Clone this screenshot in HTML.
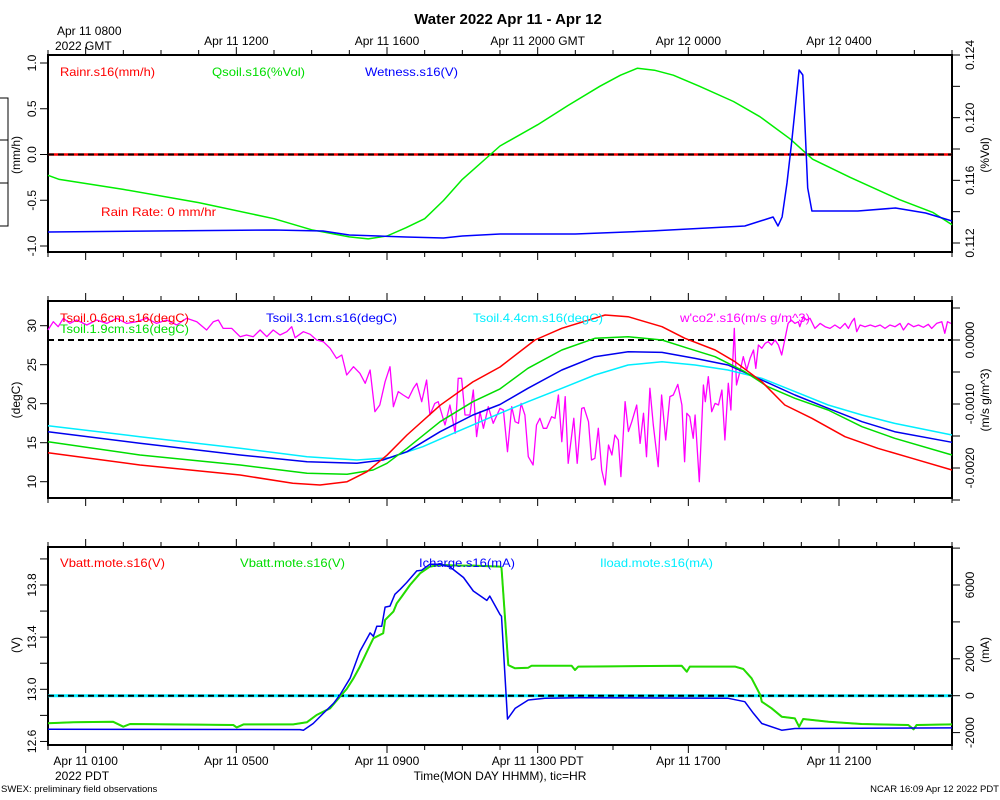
<!DOCTYPE html>
<html><head><meta charset="utf-8"><title>Water 2022 Apr 11 - Apr 12</title>
<style>
html,body{margin:0;padding:0;background:#fff;}
svg{display:block;font-family:"Liberation Sans",Arial,sans-serif;}
</style></head>
<body>
<svg id="chart" width="1000" height="800" viewBox="0 0 1000 800" xmlns="http://www.w3.org/2000/svg">
<text x="508" y="24" text-anchor="middle" font-size="15" font-weight="bold">Water 2022 Apr 11 - Apr 12</text>
<text x="57" y="35" font-size="12">Apr 11 0800</text>
<text x="55" y="50" font-size="12">2022 GMT</text>
<text x="55" y="780" font-size="12">2022 PDT</text>
<text x="500" y="780" text-anchor="middle" font-size="12">Time(MON DAY HHMM), tic=HR</text>
<text x="1" y="792" font-size="9.5">SWEX: preliminary field observations</text>
<text x="999" y="792" text-anchor="end" font-size="9.5">NCAR 16:09 Apr 12 2022 PDT</text>
<path d="M0 98H8V226H0M0 140H8M0 183H8" fill="none" stroke="#000" stroke-width="1"/>
<g id="layer"></g>
</svg>
<script>
// ---------- Panel 1 data ----------
const qsoilHours = [0,0.3,2,4,6,7,8,8.5,9,9.5,10,10.5,11,12,13,13.8,14.65,15.2,15.65,16.1,16.6,17.3,18.2,18.9,19.7,20.3,21.3,22.6,23.5,24];
const qsoilValues = [0.11632,0.11606,0.11542,0.11458,0.11355,0.11284,0.11239,0.11226,0.11245,0.11297,0.11355,0.11471,0.11606,0.11819,0.11955,0.12077,0.12200,0.12271,0.12316,0.12303,0.12271,0.12200,0.12103,0.12006,0.11865,0.11735,0.11619,0.11477,0.11394,0.11316];
const wetHours = [0,6,7.3,8,9.5,10.5,11,12,14,16,17,18.5,19.25,19.38,19.49,19.62,19.75,19.94,20.04,20.17,20.28,21.5,22.5,23.3,24];
const wetValues = [-0.847,-0.825,-0.836,-0.880,-0.902,-0.913,-0.891,-0.869,-0.869,-0.836,-0.814,-0.781,-0.683,-0.781,-0.683,-0.311,0.159,0.923,0.869,-0.366,-0.617,-0.617,-0.585,-0.639,-0.727];
const rainHours = [0,24];
const rainValues = [0,0];
const p1LeftTicks = [1.0,0.5,0.0,-0.5,-1.0];
const p1RightTicks = [0.124,0.122,0.120,0.118,0.116,0.114,0.112];
const p1RightLabels = [0.124,0.120,0.116,0.112];

// ---------- Panel 2 data ----------
const t06Hours = [0,2.44,5.10,6.50,7.22,7.94,8.47,9.00,9.53,10.41,11.28,12.0,12.93,13.64,14.79,15.40,16.30,16.91,17.71,18.24,18.95,19.56,20.28,21.16,22.03,22.94,24];
const t06Values = [13.72,12.14,10.86,9.8,9.58,10.0,11.28,13.4,15.99,19.8,22.8,24.7,28.17,29.67,31.37,31.15,29.87,28.38,26.88,25.38,22.82,19.83,18.13,15.77,14.28,13.0,11.5];
const t19Hours = [0,2.44,5.10,6.88,7.94,8.63,9.00,9.53,10.41,11.28,12.0,12.74,13.64,14.52,15.40,16.30,16.99,17.71,18.50,19.11,19.83,20.71,21.61,22.48,24];
const t19Values = [15.13,13.42,12.14,11.08,10.95,11.5,12.36,14.28,17.69,20.26,21.9,24.54,26.88,28.38,28.59,28.17,27.1,26.03,24.1,22.18,20.69,19.19,17.05,15.56,13.42];
const t31Hours = [0,2.44,5.10,6.88,8.20,8.89,9.53,10.41,11.28,12.0,12.74,13.64,14.52,15.40,16.30,17.18,18.05,18.95,19.83,20.71,21.61,22.48,24];
const t31Values = [16.41,14.92,13.42,12.56,12.36,12.78,13.85,16.41,18.55,19.9,21.97,24.32,26.03,26.67,26.58,25.81,24.96,23.04,21.12,19.41,17.69,16.41,15.05];
const t44Hours = [0,2.44,5.10,6.88,8.20,9.08,9.95,10.86,12.0,12.74,13.64,14.52,15.40,16.30,17.18,18.05,18.95,19.83,20.71,21.61,22.48,24];
const t44Values = [17.18,15.77,14.28,13.21,12.78,13.08,14.49,16.41,18.77,20.26,21.97,23.68,24.96,25.38,24.96,24.32,23.26,21.55,19.83,18.55,17.48,15.99];
const co2Hours = [0,0.14,0.27,0.41,0.58,0.76,1.03,1.29,1.56,1.82,2.09,2.35,2.62,2.88,3.15,3.42,3.68,3.95,4.21,4.39,4.52,4.65,4.88,5.10,5.27,5.45,5.63,5.81,5.98,6.16,6.34,6.47,6.56,6.78,6.96,7.13,7.31,7.49,7.66,7.80,7.93,8.11,8.28,8.42,8.55,8.68,8.81,8.95,9.08,9.17,9.30,9.43,9.57,9.70,9.79,9.92,10.05,10.14,10.27,10.36,10.54,10.67,10.81,10.89,10.98,11.07,11.20,11.29,11.38,11.47,11.56,11.69,11.82,12.00,12.09,12.20,12.31,12.40,12.49,12.56,12.66,12.75,12.88,12.97,13.06,13.15,13.24,13.37,13.46,13.55,13.64,13.73,13.81,13.96,14.05,14.17,14.23,14.35,14.43,14.52,14.61,14.70,14.79,14.88,14.97,15.05,15.14,15.21,15.32,15.41,15.50,15.63,15.72,15.81,15.89,15.98,16.07,16.20,16.29,16.40,16.51,16.60,16.72,16.83,16.90,16.96,17.04,17.13,17.18,17.29,17.40,17.45,17.53,17.62,17.71,17.80,17.89,17.97,18.06,18.13,18.17,18.22,18.28,18.37,18.46,18.55,18.64,18.73,18.79,18.86,18.95,19.04,19.12,19.21,19.30,19.39,19.48,19.57,19.65,19.73,19.83,19.92,19.96,20.05,20.14,20.23,20.36,20.50,20.63,20.76,20.89,21.03,21.16,21.25,21.34,21.41,21.47,21.56,21.69,21.83,21.96,22.09,22.22,22.35,22.49,22.62,22.71,22.84,22.98,23.11,23.24,23.37,23.46,23.59,23.73,23.81,23.88,23.97];
const co2ValuesE4 = [1.56,2.86,2.08,3.39,2.60,3.13,2.34,3.13,2.60,3.39,2.60,2.86,3.39,2.60,3.13,2.34,3.39,2.86,1.56,2.86,3.13,1.82,1.82,0.52,0.78,0.52,1.56,0.52,1.56,0.78,1.30,2.08,0.36,1.30,0.89,0,-0.26,-1.30,-2.86,-2.34,-5.47,-4.17,-5.21,-6.77,-4.69,-11.20,-10.16,-6.51,-4.17,-10.42,-8.07,-8.59,-9.11,-7.55,-6.77,-9.64,-6.25,-11.72,-9.90,-9.64,-13.28,-10.16,-14.58,-5.99,-5.99,-11.72,-11.72,-7.81,-15.10,-11.20,-13.80,-10.42,-13.02,-10.68,-10.94,-17.45,-10.42,-12.76,-13.02,-9.90,-11.72,-18.23,-19.53,-13.28,-12.24,-13.80,-13.80,-11.98,-12.24,-8.59,-15.89,-8.85,-19.27,-12.24,-19.27,-10.68,-10.57,-12.76,-18.75,-18.49,-13.80,-20.31,-22.66,-16.41,-17.97,-14.84,-15.63,-21.35,-9.64,-14.32,-12.76,-10.16,-16.15,-11.46,-18.23,-7.55,-13.28,-19.79,-8.59,-15.63,-8.85,-8.59,-6.93,-10.16,-19.01,-11.46,-11.98,-15.36,-11.72,-22.14,-7.03,-9.64,-5.73,-11.20,-9.90,-10.16,-7.81,-15.63,-6.77,-10.94,-4.69,1.82,-7.03,-4.95,-2.60,-4.69,-2.86,-1.56,-4.43,-0.78,-1.30,-0.52,-0.26,-0.78,0,-0.78,-2.34,0.26,2.60,3.13,2.60,2.86,2.08,3.65,3.13,3.39,1.82,2.60,2.08,1.82,2.34,1.82,2.60,1.82,2.86,3.39,1.30,2.34,2.08,2.34,2.08,2.34,1.82,2.34,2.08,2.60,1.56,2.60,2.08,2.34,1.98,2.45,1.82,2.60,2.86,1.04,2.86,2.60];
const p2LeftTicks = [30,25,20,15,10];
const p2RightTicks = [0.0005,0,-0.0005,-0.001,-0.0015,-0.002,-0.0025];
const p2RightLabels = ["0.0000","-0.0010","-0.0020"];

// ---------- Panel 3 data ----------
const vbattHours = [0,0.67,1.73,2.0,2.18,3.33,4.92,5.01,5.19,6.51,6.87,7.13,7.49,7.75,7.93,8.11,8.28,8.55,8.64,8.90,8.95,9.17,9.26,9.39,9.61,9.88,10.14,10.41,10.94,11.29,12.0,12.04,12.22,12.40,12.75,12.84,13.9,13.99,14.08,16.82,16.96,17.04,18.24,18.46,18.68,18.91,18.95,19.21,19.48,19.83,19.94,20.05,20.72,21.60,22.84,22.98,23.06,24.0];
const vbattValues = [12.739,12.747,12.751,12.713,12.734,12.731,12.726,12.708,12.731,12.731,12.747,12.803,12.854,12.943,13.002,13.084,13.174,13.34,13.391,13.43,13.532,13.596,13.66,13.711,13.80,13.89,13.941,13.954,13.949,13.949,13.941,13.933,13.186,13.161,13.166,13.181,13.181,13.148,13.174,13.181,13.135,13.174,13.174,13.156,13.084,12.956,12.905,12.854,12.79,12.777,12.713,12.772,12.751,12.734,12.726,12.693,12.726,12.731];
const ichHours = [0,6.69,6.78,7.04,7.31,7.58,7.75,8.02,8.28,8.55,8.64,8.73,8.86,8.95,9.08,9.21,9.35,9.52,9.79,9.92,10.14,10.41,10.67,11.03,11.29,11.65,11.73,12.0,12.04,12.20,12.40,12.75,13.19,14.08,18.06,18.50,18.73,18.95,19.48,19.83,24.0];
const ichValues = [-1817,-1835,-1871,-1506,-960,-415,38,949,2400,3404,3219,3764,3764,4801,4855,5494,5766,6132,6765,6800,7130,7130,6983,6405,5674,5166,5401,4403,4310,-1271,-687,-235,-142,-109,-142,-326,-960,-1506,-1871,-1780,-1744];
const iloadHours = [0,24];
const iloadValues = [0,0];
const p3LeftTicks = [14.0,13.8,13.6,13.4,13.2,13.0,12.8,12.6];
const p3LeftLabels = [13.8,13.4,13.0,12.6];
const p3RightTicks = [8000,6000,4000,2000,0,-2000];
const p3RightLabels = [6000,2000,0,-2000];

const gmtLabels = ["Apr 11 1200","Apr 11 1600","Apr 11 2000 GMT","Apr 12 0000","Apr 12 0400"];
const pdtLabels = ["Apr 11 0100","Apr 11 0500","Apr 11 0900","Apr 11 1300 PDT","Apr 11 1700","Apr 11 2100"];

// ---------- scales ----------
const X0 = 48, X1 = 952;
const xs = h => X0 + h * (X1 - X0) / 24;
const lin = (d0, d1, r0, r1) => v => r0 + (v - d0) * (r1 - r0) / (d1 - d0);
const p1L = lin(-1, 1, 246, 63);
const p1R = lin(0.112, 0.124, 243, 55);
const p2L = lin(10, 30, 481.7, 325.7);
const p2R = lin(0, -0.002, 340, 468);
const p3L = lin(13, 13.8, 689.3, 585);
const p3R = lin(0, 6000, 695.7, 585);
const panels = [{t:55,b:252},{t:301,b:498},{t:547,b:745}];

const NS = "http://www.w3.org/2000/svg";
const layer = document.getElementById("layer");
function mk(tag, attrs, parent){
  const e = document.createElementNS(NS, tag);
  for (const k in attrs) e.setAttribute(k, attrs[k]);
  (parent || layer).appendChild(e);
  return e;
}
function series(hours, vals, scale, color, name, w){
  const d = hours.map((h,i)=>(i?"L":"M")+xs(h).toFixed(1)+" "+scale(vals[i]).toFixed(1)).join("");
  const p = mk("path",{d:d,fill:"none",stroke:color,"stroke-width":w||1.5,"stroke-linejoin":"round"});
  
  
}
function txt(x,y,s,opts,name){
  const t = mk("text",Object.assign({x:x,y:y,"font-size":12},opts||{}));
  t.textContent = s;
  
  
  return t;
}
function dashed(y,name){
  const l = mk("line",{x1:X0,x2:X1,y1:y,y2:y,stroke:"#000","stroke-width":2,"stroke-dasharray":"6 4"});
  
  
}

// ---------- frames and time ticks ----------
panels.forEach((p,pi)=>{
  const f = mk("rect",{x:X0,y:p.t,width:X1-X0,height:p.b-p.t,fill:"none",stroke:"#000","stroke-width":2});
  
  
  for (let h=0; h<=24; h++){
    const major = (h % 4) === 1;
    const len = major ? 8 : 5;
    const x = xs(h);
    const a = mk("line",{x1:x,x2:x,y1:p.t,y2:p.t-len,stroke:"#000","stroke-width":1});
    
    
    const b = mk("line",{x1:x,x2:x,y1:p.b,y2:p.b+len,stroke:"#000","stroke-width":1});
    
    
  }
});
gmtLabels.forEach((s,i)=>txt(xs(5+4*i),45,s,{"text-anchor":"middle"},'gmt-tick-label'));
pdtLabels.forEach((s,i)=>txt(xs(1+4*i),765,s,{"text-anchor":"middle"},'pdt-tick-label'));

function yTicks(vals, scale, side, len, name){
  vals.forEach(v=>{
    const y = scale(v);
    const x = side==="L" ? X0 : X1;
    const l = mk("line",{x1:x,x2:side==="L"?x-len:x+len,y1:y,y2:y,stroke:"#000","stroke-width":1});
    
    
  });
}
function yLabels(vals, scale, x, fmt, name){
  vals.forEach(v=>{
    const y = scale(Number(v));
    const t = txt(0,0,fmt(v),{"text-anchor":"middle",transform:"translate("+x+","+y.toFixed(1)+") rotate(-90)"},name);
  });
}

// Panel 1 axes
yTicks(p1LeftTicks,p1L,"L",8,'p1-left-tick');
yLabels(p1LeftTicks,p1L,36,v=>v.toFixed(1),'p1-left-tick-label');
yTicks(p1RightTicks,p1R,"R",8,'p1-right-tick');
yLabels(p1RightLabels,p1R,974,v=>v.toFixed(3),'p1-right-tick-label');
txt(0,0,"(mm/h)",{"text-anchor":"middle",transform:"translate(20,155) rotate(-90)"},'p1-left-axis-title');
txt(0,0,"(%Vol)",{"text-anchor":"middle",transform:"translate(989,155) rotate(-90)"},'p1-right-axis-title');

// Panel 2 axes
yTicks(p2LeftTicks,p2L,"L",8,'p2-left-tick');
yLabels(p2LeftTicks,p2L,36,v=>String(v),'p2-left-tick-label');
yTicks(p2RightTicks,p2R,"R",8,'p2-right-tick');
yLabels(p2RightLabels,p2R,974,v=>v,'p2-right-tick-label');
txt(0,0,"(degC)",{"text-anchor":"middle",transform:"translate(20,400) rotate(-90)"},'p2-left-axis-title');
txt(0,0,"(m/s g/m^3)",{"text-anchor":"middle",transform:"translate(989,400) rotate(-90)"},'p2-right-axis-title');

// Panel 3 axes
yTicks(p3LeftTicks,p3L,"L",8,'p3-left-tick');
yLabels(p3LeftLabels,p3L,36,v=>v.toFixed(1),'p3-left-tick-label');
yTicks(p3RightTicks,p3R,"R",8,'p3-right-tick');
yLabels(p3RightLabels,p3R,974,v=>String(v),'p3-right-tick-label');
txt(0,0,"(V)",{"text-anchor":"middle",transform:"translate(20,645) rotate(-90)"},'p3-left-axis-title');
txt(0,0,"(mA)",{"text-anchor":"middle",transform:"translate(989,650) rotate(-90)"},'p3-right-axis-title');

// ---------- series ----------
series(rainHours,rainValues,p1L,"#ff0000",'rain-rate-line',2.5);
dashed(p1L(0),'p1-zero-line');
series(qsoilHours,qsoilValues,p1R,"#00ee00",'qsoil-line');
series(wetHours,wetValues,p1L,"#0000ff",'wetness-line');

dashed(p2R(0),'p2-zero-line');
series(co2Hours,co2ValuesE4.map(v=>v*1e-4),p2R,"#ff00ff",'wco2-line',1.3);
series(t44Hours,t44Values,p2L,"#00eeff",'tsoil-4.4cm-line');
series(t31Hours,t31Values,p2L,"#0000ee",'tsoil-3.1cm-line');
series(t19Hours,t19Values,p2L,"#00dd00",'tsoil-1.9cm-line');
series(t06Hours,t06Values,p2L,"#ff0000",'tsoil-0.6cm-line');

series(iloadHours,iloadValues,p3R,"#00eeff",'iload-line',3);
dashed(p3R(0),'p3-zero-line');
series(vbattHours,vbattValues,p3L,"#ff0000",'vbatt-red-line',1.5);
series(vbattHours,vbattValues,p3L,"#22dd00",'vbatt-green-line',2);
series(ichHours,ichValues,p3R,"#0000ee",'icharge-line');

// ---------- legends ----------
function leg(x,y,s,color,w,name){ txt(x,y,s,{fill:color,textLength:w,lengthAdjust:"spacingAndGlyphs"},name); }
leg(60,76,"Rainr.s16(mm/h)","#ff0000",95,'legend-rainr');
leg(212,76,"Qsoil.s16(%Vol)","#00dd00",93,'legend-qsoil');
leg(365,76,"Wetness.s16(V)","#0000ff",93,'legend-wetness');
leg(101,216,"Rain Rate: 0 mm/hr","#ff0000",115,'rain-rate-annotation');
leg(60,322,"Tsoil.0.6cm.s16(degC)","#ff0000",129,'legend-tsoil-0.6cm');
leg(60,333,"Tsoil.1.9cm.s16(degC)","#00dd00",129,'legend-tsoil-1.9cm');
leg(266,322,"Tsoil.3.1cm.s16(degC)","#0000ff",131,'legend-tsoil-3.1cm');
leg(473,322,"Tsoil.4.4cm.s16(degC)","#00eeff",130,'legend-tsoil-4.4cm');
leg(680,322,"w'co2'.s16(m/s g/m^3)","#ff00ff",130,'legend-wco2');
leg(60,567,"Vbatt.mote.s16(V)","#ff0000",105,'legend-vbatt-red');
leg(240,567,"Vbatt.mote.s16(V)","#00dd00",105,'legend-vbatt-green');
leg(419,567,"Icharge.s16(mA)","#0000ff",96,'legend-icharge');
leg(600,567,"Iload.mote.s16(mA)","#00eeff",113,'legend-iload');
</script>
</body></html>
